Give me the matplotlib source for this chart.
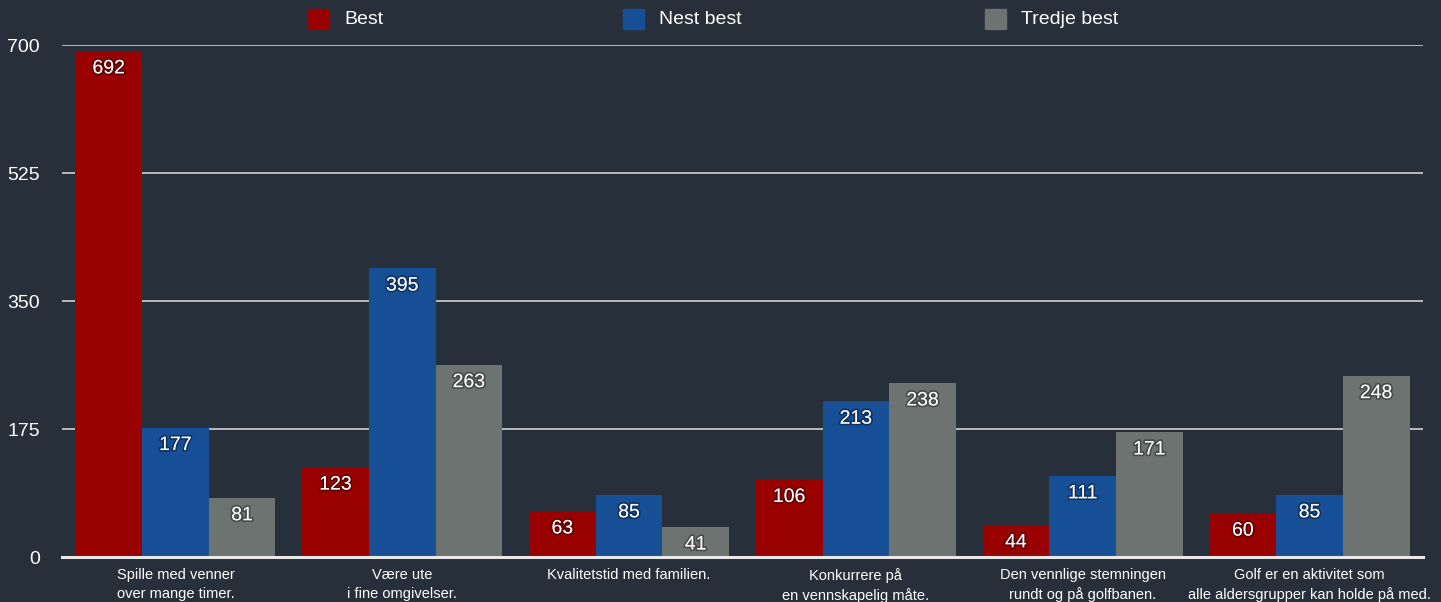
import matplotlib
matplotlib.use("Agg")
import matplotlib.pyplot as plt
import matplotlib.patheffects as pe
from matplotlib.patches import Rectangle
import numpy as np

categories = [
    "Spille med venner\nover mange timer.",
    "Være ute\ni fine omgivelser.",
    "Kvalitetstid med familien.",
    "Konkurrere på\nen vennskapelig måte.",
    "Den vennlige stemningen\nrundt og på golfbanen.",
    "Golf er en aktivitet som\nalle aldersgrupper kan holde på med.",
]
series_names = ["Best", "Nest best", "Tredje best"]
best = [692, 123, 63, 106, 44, 60]
nest_best = [177, 395, 85, 213, 111, 85]
tredje_best = [81, 263, 41, 238, 171, 248]
yticks = [0, 175, 350, 525, 700]

colors = ["#990000", "#174f96", "#6d7370"]
bg = "#262f3a"

plt.rcParams["font.family"] = ["Liberation Sans", "DejaVu Sans"]

fig = plt.figure(figsize=(14.41, 6.02), dpi=100, facecolor=bg)
ax = fig.add_axes([62 / 1441, 1 - 557 / 602, (1423 - 62) / 1441, (557 - 45) / 602])
ax.set_facecolor(bg)

x = np.arange(len(categories))
w = 0.294
shadow = [pe.withStroke(linewidth=2.5, foreground=(0, 0, 0, 0.35))]
for k, (vals, col) in enumerate(zip([best, nest_best, tredje_best], colors)):
    bars = ax.bar(x + (k - 1) * w, vals, width=w, color=col, zorder=3, linewidth=0)
    for b, v in zip(bars, vals):
        ax.annotate(str(v), (b.get_x() + b.get_width() / 2, v), xytext=(0, -18),
                    textcoords="offset pixels", ha="center", va="center",
                    color="white", fontsize=14, zorder=5, path_effects=shadow)

ax.set_xlim(-0.5, len(categories) - 0.5)
ax.set_ylim(0, 700)
ax.set_yticks(yticks)
ax.set_yticklabels([str(t) for t in yticks], color="white", fontsize=14)
ax.yaxis.grid(True, color="#c4c4c4", linewidth=1.3, zorder=0)
ax.set_axisbelow(True)
ax.tick_params(axis="y", length=0, pad=16)
ax.set_xticks(x)
ax.set_xticklabels(categories, color="white", fontsize=10.5, linespacing=1.4)
ax.tick_params(axis="x", length=0, pad=8)
for s in ["top", "right", "left"]:
    ax.spines[s].set_visible(False)
ax.spines["bottom"].set_color("#e8e8e8")
ax.spines["bottom"].set_linewidth(2.2)
ax.spines["bottom"].set_zorder(4)

# legend
legend_x = [308, 623, 985]
for lx, name, col in zip(legend_x, series_names, colors):
    fig.patches.append(Rectangle((lx / 1441, 1 - 29 / 602), 21 / 1441, 20 / 602,
                                 transform=fig.transFigure, color=col))
    fig.text((lx + 36) / 1441, 1 - 19 / 602, name, color="white", fontsize=14,
             va="center", ha="left")

fig.savefig("out.png", dpi=100, facecolor=bg)
